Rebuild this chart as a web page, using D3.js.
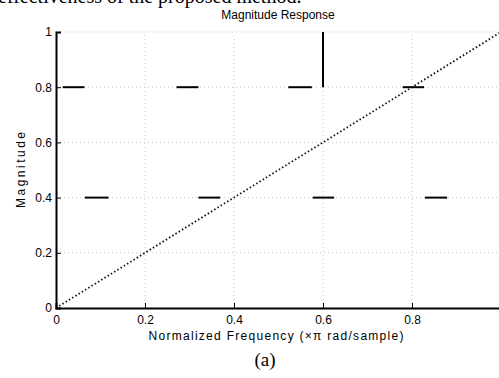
<!DOCTYPE html>
<html>
<head>
<meta charset="utf-8">
<script src="https://cdn.jsdelivr.net/npm/d3@7"></script>
<style>
  body { margin: 0; background: #fff; }
  svg { display: block; }
  .tick text { font-family: "Liberation Sans", Arial, sans-serif; font-size: 12px; }
</style>
</head>
<body>
<div id="viz"></div>
<script>
// response curve (dotted)
const freq = [0, 0.2, 0.4, 0.6, 0.8, 1];
const magnitude = [0, 0.2, 0.4, 0.6, 0.8, 1];

// short solid dashes of the spec line, [start, end]
const dashesHigh = [[0.015, 0.064], [0.271, 0.32], [0.522, 0.575], [0.779, 0.827]];
const dashesLow = [[0.065, 0.118], [0.32, 0.369], [0.577, 0.625], [0.829, 0.879]];
const highLevel = 0.8;
const lowLevel = 0.4;
const edgeFreq = 0.6;

const xTicks = [0, 0.2, 0.4, 0.6, 0.8];
const xTickLabels = ["0", "0.2", "0.4", "0.6", "0.8"];
const yTicks = [0, 0.2, 0.4, 0.6, 0.8, 1];
const yTickLabels = ["0", "0.2", "0.4", "0.6", "0.8", "1"];

const width = 499, height = 378;
const margin = { left: 56, top: 32 };

const svg = d3.select("#viz").append("svg")
    .attr("width", width)
    .attr("height", height);

// page text above the figure (cut off at the top, as in the scan)
svg.append("text")
    .attr("x", -2)
    .attr("y", 3)
    .attr("font-family", "Liberation Serif, Times New Roman, serif")
    .attr("font-size", 20)
    .text("effectiveness of the proposed method.");

const x = d3.scaleLinear().domain([0, 1]).range([margin.left, margin.left + 445]);
const y = d3.scaleLinear().domain([0, 1]).range([308, margin.top]);

// grid
svg.append("g")
    .selectAll("line")
    .data(xTicks.slice(1))
    .enter().append("line")
    .attr("x1", d => x(d)).attr("x2", d => x(d))
    .attr("y1", y(0)).attr("y2", y(1))
    .attr("stroke", "#c8c8c8")
    .attr("stroke-dasharray", "1,3");
svg.append("g")
    .selectAll("line")
    .data(yTicks.slice(1))
    .enter().append("line")
    .attr("x1", x(0)).attr("x2", x(1))
    .attr("y1", d => y(d)).attr("y2", d => y(d))
    .attr("stroke", "#c8c8c8")
    .attr("stroke-dasharray", "1,3");

// spec dashes
const dashes = dashesHigh.map(d => [d[0], d[1], highLevel])
    .concat(dashesLow.map(d => [d[0], d[1], lowLevel]));
svg.append("g")
    .selectAll("line")
    .data(dashes)
    .enter().append("line")
    .attr("x1", d => x(d[0])).attr("x2", d => x(d[1]))
    .attr("y1", d => y(d[2])).attr("y2", d => y(d[2]))
    .attr("stroke", "#000")
    .attr("stroke-width", 2);
svg.append("line")
    .attr("x1", x(edgeFreq)).attr("x2", x(edgeFreq))
    .attr("y1", y(highLevel)).attr("y2", y(1))
    .attr("stroke", "#000")
    .attr("stroke-width", 2);

// dotted response
const line = d3.line().x((d, i) => x(freq[i])).y(d => y(d));
svg.append("path")
    .datum(magnitude)
    .attr("d", line)
    .attr("fill", "none")
    .attr("stroke", "#111")
    .attr("stroke-width", 1.8)
    .attr("stroke-dasharray", "1.5,2.3");

// axes
const xAxis = svg.append("g")
    .attr("transform", `translate(0,${y(0)})`)
    .call(d3.axisBottom(x).tickValues(xTicks).tickFormat((d, i) => xTickLabels[i]).tickSize(-5).tickPadding(7));
const yAxis = svg.append("g")
    .attr("transform", `translate(${x(0)},0)`)
    .call(d3.axisLeft(y).tickValues(yTicks).tickFormat((d, i) => yTickLabels[i]).tickSize(-5).tickPadding(4));
[xAxis, yAxis].forEach(g => {
    g.select(".domain").attr("stroke", "#000").attr("stroke-width", 2);
    g.selectAll(".tick line").attr("stroke", "#000");
    g.selectAll(".tick text").attr("fill", "#000");
});

// titles
svg.append("text")
    .attr("x", 278).attr("y", 19)
    .attr("text-anchor", "middle")
    .attr("font-family", "Liberation Sans, Arial, sans-serif")
    .attr("font-size", 12)
    .text("Magnitude Response");
svg.append("text")
    .attr("x", 276).attr("y", 340)
    .attr("text-anchor", "middle")
    .attr("font-family", "Liberation Sans, Arial, sans-serif")
    .attr("font-size", 12)
    .attr("textLength", 255)
    .attr("lengthAdjust", "spacing")
    .text("Normalized Frequency (×π rad/sample)");
svg.append("text")
    .attr("transform", "translate(25,170) rotate(-90)")
    .attr("text-anchor", "middle")
    .attr("font-family", "Liberation Sans, Arial, sans-serif")
    .attr("font-size", 12)
    .attr("textLength", 76)
    .attr("lengthAdjust", "spacing")
    .text("Magnitude");

// caption
svg.append("text")
    .attr("x", 265).attr("y", 366)
    .attr("text-anchor", "middle")
    .attr("font-family", "Liberation Serif, Times New Roman, serif")
    .attr("font-size", 19)
    .text("(a)");
</script>
</body>
</html>
